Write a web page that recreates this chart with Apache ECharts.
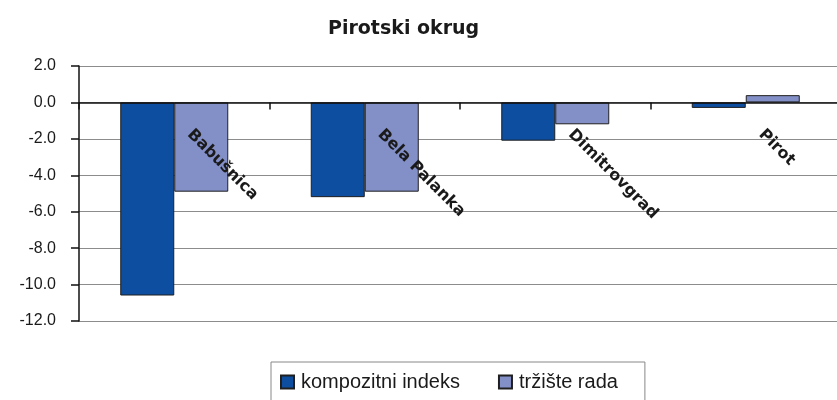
<!DOCTYPE html>
<html>
<head>
<meta charset="utf-8">
<script src="https://cdn.jsdelivr.net/npm/echarts@6/dist/echarts.min.js"></script>
<style>
  html, body { margin: 0; padding: 0; background: #fff; }
  #chart { width: 837px; height: 400px; }
</style>
</head>
<body>
<div id="chart"></div>
<script>
// Municipalities of the Pirot district
const categories = ['Babušnica', 'Bela Palanka', 'Dimitrovgrad', 'Pirot'];
// Composite index and labour-market index values
const kompozitniIndeks = [-10.6, -5.2, -2.1, -0.3];
const trzisteRada = [-4.9, -4.9, -1.2, 0.4];
const seriesNames = ['kompozitni indeks', 'tržište rada'];
const yTicks = { min: -12, max: 2, step: 2 };

const gridBox = { left: 79, top: 66, width: 762, height: 255 };
// lift the category axis from the grid bottom up to the zero line
const zeroLift = -gridBox.height * (0 - yTicks.min) / (yTicks.max - yTicks.min);

const chart = echarts.init(document.getElementById('chart'), null, { renderer: 'canvas' });

const barEdge = { borderColor: '#1f1f1f', borderWidth: 1 };

chart.setOption({
  animation: false,
  backgroundColor: '#ffffff',
  title: {
    text: 'Pirotski okrug',
    left: 323,
    top: 15,
    textStyle: { fontFamily: 'DejaVu Sans', fontWeight: 'bold', fontSize: 19, color: '#1a1a1a' }
  },
  legend: {
    data: seriesNames,
    left: 271,
    top: 362,
    padding: [10, 27, 12, 9],
    borderColor: '#888888',
    borderWidth: 1,
    itemWidth: 13,
    itemHeight: 13,
    itemGap: 38,
    icon: 'rect',
    textStyle: { fontFamily: 'Liberation Sans', fontSize: 20, color: '#1a1a1a', padding: [0, 0, 0, 2] }
  },
  grid: Object.assign({ outerBoundsMode: 'none', containLabel: false }, gridBox),
  xAxis: {
    type: 'category',
    data: categories,
    position: 'bottom',
    offset: zeroLift,
    axisLine: { onZero: false, lineStyle: { color: '#111', width: 1.5 } },
    axisTick: { show: true, inside: false, length: 7, lineStyle: { color: '#111', width: 1.5 } },
    axisLabel: {
      rotate: -45,
      margin: 14,
      padding: [0, 0, 0, 22],
      fontFamily: 'DejaVu Sans',
      fontWeight: 'bold',
      fontSize: 16,
      color: '#1a1a1a'
    },
    splitLine: { show: false },
    z: 10
  },
  yAxis: {
    type: 'value',
    min: yTicks.min,
    max: yTicks.max,
    interval: yTicks.step,
    axisLine: { show: true, lineStyle: { color: '#111', width: 1.5 } },
    axisTick: { show: true, length: 8, lineStyle: { color: '#111', width: 1.5 } },
    axisLabel: {
      margin: 23,
      fontFamily: 'Liberation Sans',
      fontSize: 16,
      color: '#1a1a1a',
      formatter: v => v.toFixed(1)
    },
    splitLine: { show: true, lineStyle: { color: '#8c8c8c', width: 1.2 } }
  },
  series: [
    {
      name: seriesNames[0],
      type: 'bar',
      data: kompozitniIndeks,
      barWidth: 54,
      barGap: '0%',
      itemStyle: Object.assign({ color: '#0d4ea0' }, barEdge)
    },
    {
      name: seriesNames[1],
      type: 'bar',
      data: trzisteRada,
      barWidth: 54,
      barGap: '0%',
      itemStyle: Object.assign({ color: '#8390c8' }, barEdge)
    }
  ]
});
</script>
</body>
</html>
